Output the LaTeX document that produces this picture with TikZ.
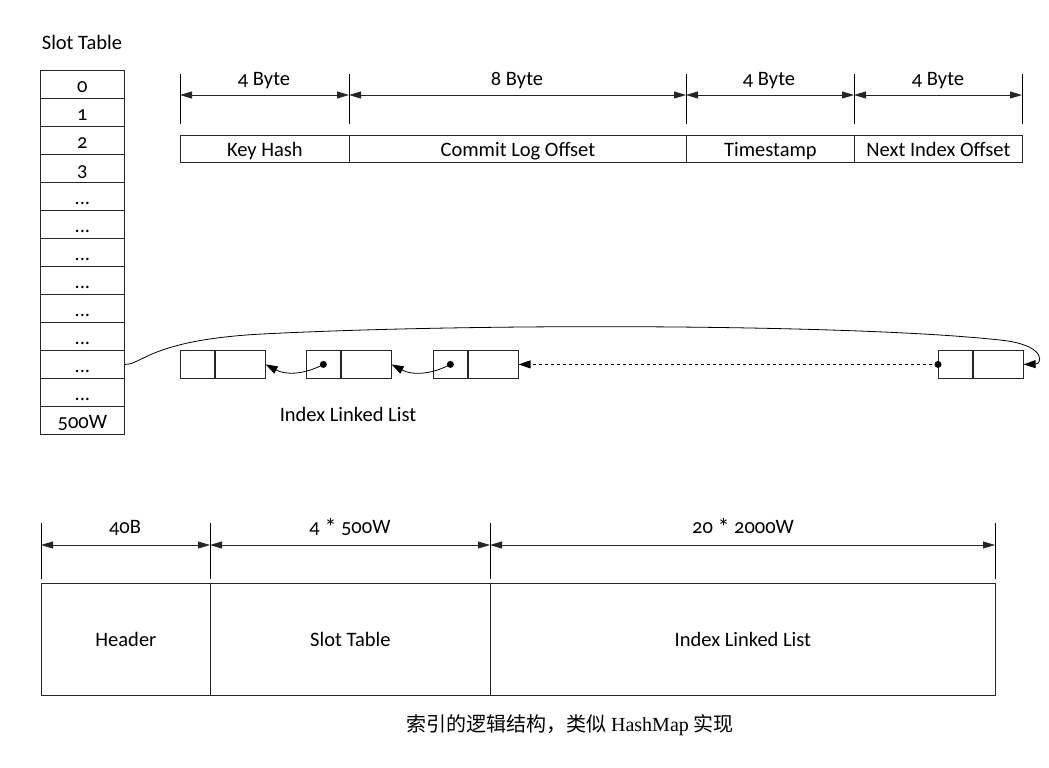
\documentclass[tikz,border=0pt]{standalone}
\usepackage{fontspec}
\setmainfont{Carlito}[Numbers=OldStyle]
\newfontfamily\cjk{Noto Sans CJK SC}
\newfontfamily\serifen{Liberation Serif}
\usetikzlibrary{arrows.meta,calc}
\newcommand\mydots{...}
\newcommand\myast{\raisebox{-0.25ex}{\fontsize{24}{24}\selectfont *}}
\begin{document}
\begin{tikzpicture}[x=1pt,y=-1pt,
  every node/.style={font=\fontsize{20.5}{24}\selectfont, text=black},
  lbl/.style={text height=2.25ex, text depth=0.35ex, inner sep=0pt, yshift=-3pt},
  cell/.style={draw=black!85, line width=0.8pt, rectangle, inner sep=0pt, anchor=north west},
  tick/.style={draw=black, line width=0.8pt},
  dim/.style={draw=black!85, line width=0.8pt, {Triangle[length=12pt,width=7pt]}-{Triangle[length=12pt,width=7pt]}},
  lnk/.style={draw=black, line width=0.8pt, -{Triangle[length=12pt,width=8pt]}},
  dot/.style={circle, fill=black, inner sep=0pt, minimum size=7pt}]
\useasboundingbox (0,0) rectangle (1049,768);
% Slot table
\node[lbl] (sttitle) at (82,42) {Slot Table};
\foreach \i/\t in {0/0,1/1,2/2,3/3,4/\mydots,5/\mydots,6/\mydots,7/\mydots,8/\mydots,9/\mydots,10/\mydots,11/\mydots,12/500W}{
  \node[cell, minimum width=84pt, minimum height=28pt] (s\i) at (40,{70+28*\i}) {};
  \node[lbl] at ($(s\i.center)+(0,1)$) {\t};
}
% Record layout
\node[cell, minimum width=169pt, minimum height=27pt] (kh) at (180,135) {};
\node[lbl] at (kh.center) {Key Hash};
\node[cell, minimum width=337pt, minimum height=27pt] (clo) at (349,135) {};
\node[lbl] at (clo.center) {Commit Log Offset};
\node[cell, minimum width=168pt, minimum height=27pt] (ts) at (686,135) {};
\node[lbl] at (ts.center) {Timestamp};
\node[cell, minimum width=168pt, minimum height=27pt] (nio) at (854,135) {};
\node[lbl] at (nio.center) {Next Index Offset};
\foreach \x [count=\k] in {180,349,686,854,1022}{
  \coordinate (ta\k) at (\x,74);
  \coordinate (tb\k) at (\x,124);
  \coordinate (tm\k) at (\x,95);
  \draw[tick] (ta\k) -- (tb\k);
}
\draw[dim] (tm1) -- (tm2);
\draw[dim] (tm2) -- (tm3);
\draw[dim] (tm3) -- (tm4);
\draw[dim] (tm4) -- (tm5);
\node[lbl] at (264,78) {4 Byte};
\node[lbl] at (517,78) {8 Byte};
\node[lbl] at (769,78) {4 Byte};
\node[lbl] at (938,78) {4 Byte};
% Linked list
\foreach \n/\x in {1/180,2/306,3/433,4/938}{
  \node[cell, minimum width=34pt, minimum height=28pt] (a\n) at (\x,350) {};
  \node[cell, minimum width=50pt, minimum height=28pt] (b\n) at ($(a\n.north east)$) {};
}
\node[dot] (d2) at (a2.center) {};
\node[dot] (d3) at (a3.center) {};
\node[dot] (d4) at (a4.west) {};
\draw[lnk] (d2.center) to[bend left=28] (b1.east);
\draw[lnk] (d3.center) to[bend left=28] (b2.east);
\draw[lnk, dashed] (d4.center) -- (b3.east);
\draw[lnk] (s10.east) .. controls (142,365) and (150,340) .. (262,334)
  .. controls (500,322) and (880,325) .. (1008,341)
  .. controls (1046,347) and (1042,364) .. (b4.east);
\node[lbl] (illabel) at (348,414) {Index Linked List};
% File layout
\node[cell, minimum width=169pt, minimum height=112pt] (hdr) at (41,583) {};
\node[lbl] at (hdr.center) {Header};
\node[cell, minimum width=280pt, minimum height=112pt] (slt) at (210,583) {};
\node[lbl] at (slt.center) {Slot Table};
\node[cell, minimum width=505pt, minimum height=112pt] (ill) at (490,583) {};
\node[lbl] at (ill.center) {Index Linked List};
\foreach \x [count=\k] in {41,210,490,995}{
  \coordinate (ba\k) at (\x,523);
  \coordinate (bb\k) at (\x,579);
  \coordinate (bm\k) at (\x,545);
  \draw[tick] (ba\k) -- (bb\k);
}
\draw[dim] (bm1) -- (bm2);
\draw[dim] (bm2) -- (bm3);
\draw[dim] (bm3) -- (bm4);
\node[lbl] at (125,526) {40B};
\node[lbl] at (350,526) {4 \myast{} 500W};
\node[lbl] at (743,526) {20 \myast{} 2000W};
\node (caption) at (570,725) {\cjk\fontsize{20}{24}\selectfont 索引的逻辑结构，类似 {\serifen HashMap} 实现};
\end{tikzpicture}
\end{document}
